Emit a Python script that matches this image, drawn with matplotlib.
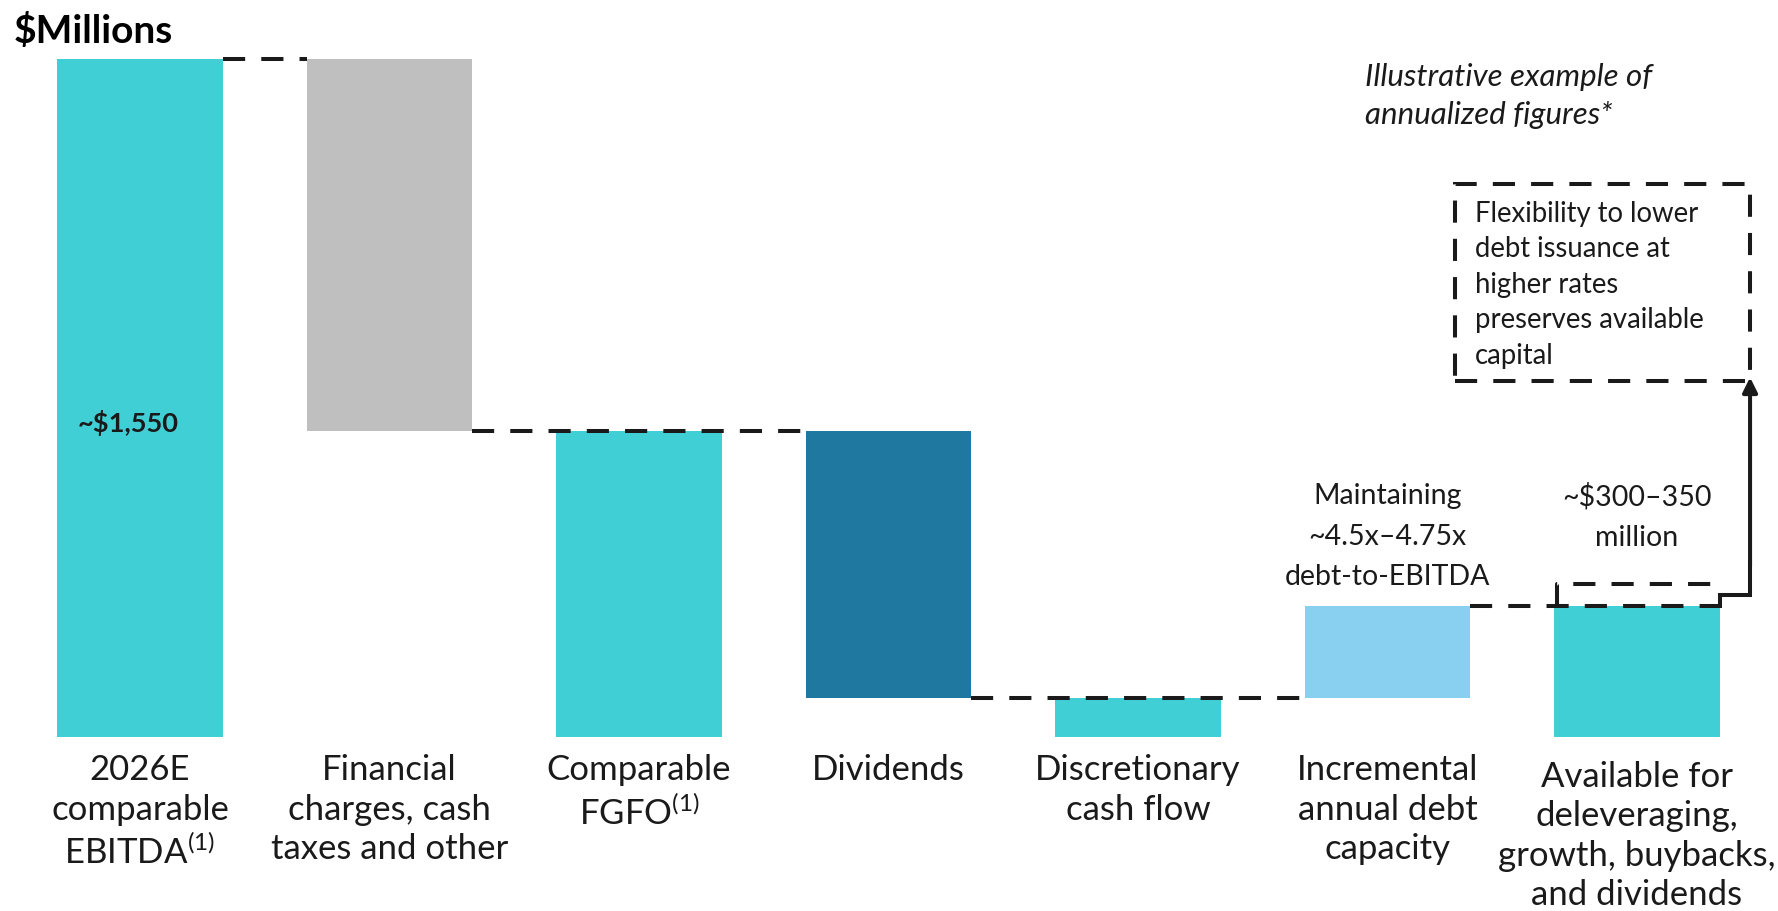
import matplotlib
matplotlib.use("Agg")
import matplotlib.pyplot as plt
from matplotlib.patches import Rectangle

plt.rcParams['font.family'] = ['Lato', 'DejaVu Sans']
plt.rcParams['mathtext.fontset'] = 'custom'
plt.rcParams['mathtext.rm'] = 'Lato'
plt.rcParams['mathtext.it'] = 'Lato:italic'

# waterfall steps ($ millions)
categories = ['2026E\ncomparable\nEBITDA$^{(1)}$', 'Financial\ncharges, cash\ntaxes and other',
              'Comparable\nFGFO$^{(1)}$', 'Dividends', 'Discretionary\ncash flow',
              'Incremental\nannual debt\ncapacity',
              'Available for\ndeleveraging,\ngrowth, buybacks,\nand dividends']
steps = [1550, -850, None, -610, None, 210, None]   # None = subtotal
range_low, range_high = 300, 350
colors = ['#41CFD6', '#BFBFBF', '#41CFD6', '#1F78A0', '#41CFD6', '#89CFEF', '#41CFD6']

ink = '#1a1a1a'
w = 0.665

fig = plt.figure(figsize=(17.78, 9.12), dpi=100)
ax = fig.add_axes([0, 0, 1, 1])
ax.set_xlim(-0.561, 6.565)
ax.set_ylim(-397.8, 1687)
ax.axis('off')

# running totals
bottoms, heights, levels = [], [], []
total = 0
for s in steps:
    if s is None:
        bottoms.append(0)
        heights.append(total)
    elif s < 0:
        bottoms.append(total + s)
        heights.append(-s)
        total += s
    else:
        bottoms.append(total)
        heights.append(s)
        total += s
    levels.append(total)

x = list(range(len(categories)))
ax.bar(x, heights, bottom=bottoms, width=w, color=colors, zorder=2)

dash = (0, (5.5, 4))
lw = 2.9
# connectors between bars
ax.plot([0 + w/2, 1 - w/2], [levels[0]] * 2, color=ink, lw=lw, ls=dash, zorder=3)
ax.plot([1 + w/2, 3 - w/2], [levels[1]] * 2, color=ink, lw=lw, ls=dash, zorder=3)
ax.plot([3 + w/2, 5 - w/2], [levels[3]] * 2, color=ink, lw=lw, ls=dash, zorder=3)
ax.plot([5 + w/2, 6 + w/2], [levels[5]] * 2, color=ink, lw=lw, ls=dash, zorder=3)

# range bracket on top of the last bar
ax.plot([6 - w/2 + 0.012, 6 - w/2 + 0.012, 6 + w/2, 6 + w/2],
        [range_low, range_high, range_high, range_high - 12],
        color=ink, lw=lw, ls=dash, zorder=3)

# solid arrow to the callout box
box_x0, box_x1 = 5.27, 6.453
box_y0, box_y1 = 814, 1264
ax.plot([6 + w/2, 6 + w/2, box_x1, box_x1], [range_low, 325, 325, 400],
        color=ink, lw=lw, solid_joinstyle='miter', zorder=3)
ax.annotate('', xy=(box_x1, box_y0 + 8), xytext=(box_x1, 390),
            arrowprops=dict(arrowstyle='-|>', color=ink, lw=lw,
                            mutation_scale=22, shrinkA=0, shrinkB=0))

ax.add_patch(Rectangle((box_x0, box_y0), box_x1 - box_x0, box_y1 - box_y0,
                       fill=False, ec=ink, lw=lw, ls=dash, zorder=3))
ax.text(5.35, 1228, 'Flexibility to lower\ndebt issuance at\nhigher rates\npreserves available\ncapital',
        fontsize=19.8, color=ink, ha='left', va='top', linespacing=1.45)

ax.text(4.91, 1543, 'Illustrative example of\nannualized figures*', fontsize=22.5,
        style='italic', color=ink, ha='left', va='top', linespacing=1.45)

ax.text(5, 460, 'Maintaining\n~4.5x\u20134.75x\ndebt-to-EBITDA', fontsize=20.5,
        color=ink, ha='center', va='center', linespacing=1.7)
ax.text(6, 505, '~$300\u2013350\nmillion', fontsize=20.5,
        color=ink, ha='center', va='center', linespacing=1.65)

ax.text(-0.048, 720, '~\\$1,550', fontsize=19.6, fontweight='bold', color=ink,
        ha='center', va='center')

# category labels
for i, lab in enumerate(categories):
    y0 = -53 if i == 6 else -37.5
    ax.text(i, y0, lab, fontsize=25, color=ink, ha='center', va='top', linespacing=1.28)

fig.text(14 / 1778, 1 - 31 / 912, '$Millions', fontsize=28, fontweight='bold',
         color='black', ha='left', va='center')

fig.savefig('out.png', dpi=100, facecolor='white')
